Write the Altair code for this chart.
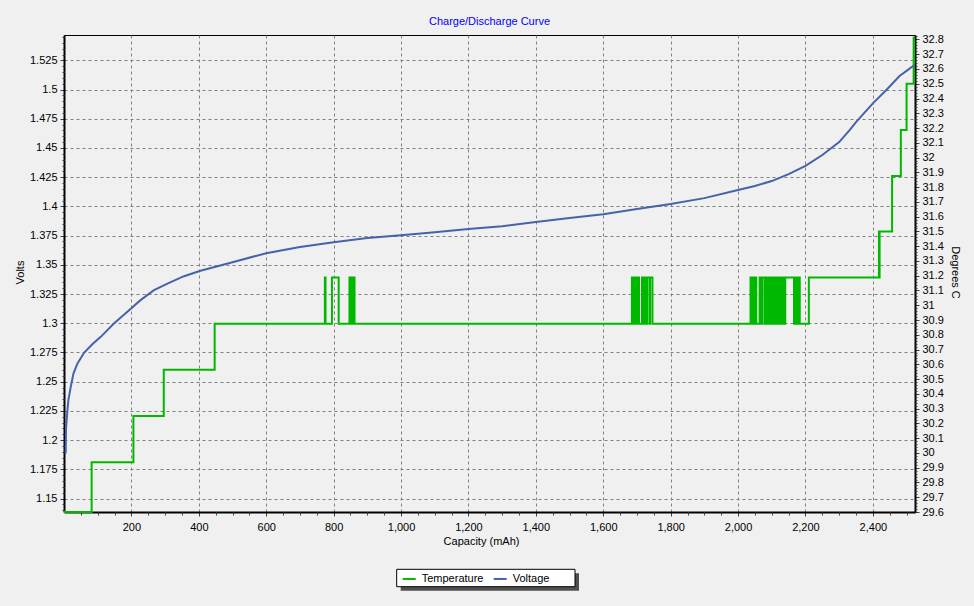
import altair as alt
import pandas as pd

# ---------------- data ----------------
title_text = "Charge/Discharge Curve"
series_names = ["Temperature", "Voltage"]

volt_cap = [5, 6, 10, 13, 20, 28, 40, 60, 84, 109, 148, 188, 227, 267, 307, 356, 405,
            500, 600, 700, 800, 900, 1000, 1100, 1200, 1300, 1400, 1500, 1600, 1700,
            1800, 1900, 2000, 2050, 2100, 2150, 2200, 2250, 2300, 2331, 2350, 2400,
            2440, 2479, 2499, 2523]
volt_val = [1.1885, 1.21, 1.225, 1.2342, 1.2456, 1.257, 1.2656, 1.275, 1.2821, 1.2884,
            1.2998, 1.3098, 1.3198, 1.3283, 1.334, 1.3403, 1.3449,
            1.3523, 1.36, 1.3652, 1.3694, 1.3729, 1.3754, 1.378, 1.3806, 1.3831, 1.3866,
            1.39, 1.3934, 1.3977, 1.402, 1.4071, 1.414, 1.4175, 1.4217, 1.4277, 1.4347,
            1.444, 1.4551, 1.4653, 1.4722, 1.4882, 1.4996, 1.5116, 1.5158, 1.521]

temp_cap = [0, 82, 206, 296, 447,
            774, 776, 795, 815, 847, 851, 852, 854, 859, 862,
            1685, 1688, 1689, 1693, 1694, 1700, 1702, 1706, 1715, 1719, 1720, 1722,
            1726, 1730, 1731, 1738, 1739, 1746,
            2037, 2041, 2042, 2048, 2049, 2054, 2064, 2068, 2071, 2078, 2082, 2086,
            2087, 2093, 2094, 2100, 2101, 2105,
            2111, 2114, 2115, 2118, 2120, 2123, 2124, 2127, 2128, 2131, 2132, 2135,
            2136, 2139, 2140,
            2166, 2168, 2170, 2172, 2174, 2176, 2178, 2180, 2183,
            2210, 2418, 2419, 2420, 2457, 2483, 2500, 2521, 2525]
temp_val = [29.6, 29.9375, 30.25, 30.5625, 30.875,
            31.1875, 30.875, 31.1875, 30.875, 31.1875, 30.875, 31.1875, 30.875, 31.1875, 30.875,
            31.1875, 30.875, 31.1875, 30.875, 31.1875, 30.875, 31.1875, 30.875, 31.1875, 30.875,
            31.1875, 30.875, 31.1875, 30.875, 31.1875, 30.875, 31.1875, 30.875,
            31.1875, 30.875, 31.1875, 30.875, 31.1875, 30.875, 31.1875, 30.875, 31.1875,
            30.875, 31.1875, 30.875, 31.1875, 30.875, 31.1875, 30.875, 31.1875, 30.875,
            31.1875, 30.875, 31.1875, 30.875, 31.1875, 30.875, 31.1875, 30.875, 31.1875,
            30.875, 31.1875, 30.875, 31.1875, 30.875, 31.1875,
            30.875, 31.1875, 30.875, 31.1875, 30.875, 31.1875, 30.875, 31.1875, 30.875,
            31.1875, 31.5, 31.1875, 31.5, 31.875, 32.1875, 32.5, 32.8125, 32.8125]

x_ticks = [200, 400, 600, 800, 1000, 1200, 1400, 1600, 1800, 2000, 2200, 2400]
volt_ticks = [1.15, 1.175, 1.2, 1.225, 1.25, 1.275, 1.3, 1.325, 1.35, 1.375, 1.4,
              1.425, 1.45, 1.475, 1.5, 1.525]
temp_ticks = [29.6, 29.7, 29.8, 29.9, 30.0, 30.1, 30.2, 30.3, 30.4, 30.5, 30.6, 30.7,
              30.8, 30.9, 31.0, 31.1, 31.2, 31.3, 31.4, 31.5, 31.6, 31.7, 31.8, 31.9,
              32.0, 32.1, 32.2, 32.3, 32.4, 32.5, 32.6, 32.7, 32.8]

# minor tick positions (styling only)
x_minor = [c for c in range(50, 2525, 50) if c % 200 != 0]
volt_minor = [round(k * 0.005, 3) for k in range(228, 310) if k % 5 != 0]
temp_minor = [round(k * 0.02, 2) for k in range(1480, 1642) if k % 5 != 0]

volt_df = pd.DataFrame({"cap": volt_cap, "volt": volt_val, "series": "Voltage"})
temp_df = pd.DataFrame({"cap": temp_cap, "temp": temp_val, "series": "Temperature"})

FONT = "Liberation Sans"
GREEN = "#00B800"
BLUE = "#4563A8"

x_scale = alt.Scale(domain=[0, 2525], nice=False, zero=False)
volt_scale = alt.Scale(domain=[1.1385, 1.5467], nice=False, zero=False)
temp_scale = alt.Scale(domain=[29.6, 32.83], nice=False, zero=False)
color_scale = alt.Scale(domain=series_names, range=[GREEN, BLUE])

legend = alt.Legend(orient="none", legendX=334.7, legendY=533.2, direction="horizontal",
                    title=None, padding=3,
                    symbolType="stroke", symbolStrokeWidth=2, symbolSize=169,
                    labelFont=FONT, labelFontSize=11, labelColor="black",
                    columnPadding=6, labelOffset=5)

# legend frame decoration (box + drop shadow)
frame_df = pd.DataFrame({"k": [0]})
shadow = alt.Chart(frame_df).mark_rect(color="#505050").encode(
    x=alt.value(336.7), x2=alt.value(515), y=alt.value(538.3), y2=alt.value(555.7))
box = alt.Chart(frame_df).mark_rect(fill="white", stroke="black", strokeWidth=1).encode(
    x=alt.value(332.7), x2=alt.value(511), y=alt.value(534.3), y2=alt.value(551.7))

temp_line = alt.Chart(temp_df).mark_line(interpolate="step-after", strokeWidth=2).encode(
    x=alt.X("cap:Q", scale=x_scale, axis=None),
    y=alt.Y("temp:Q", scale=temp_scale,
            axis=alt.Axis(orient="right", values=temp_ticks, format=".1~f", grid=False,
                          title="Degrees C", titleAngle=90, titleX=39, titleY=237,
                          titleAlign="center", titleBaseline="middle",
                          tickSize=4, labelPadding=3, labelOverlap=False, labelFlush=False)),
    color=alt.Color("series:N", scale=color_scale, legend=legend),
)

volt_line = alt.Chart(volt_df).mark_line(strokeWidth=2, clip=True).encode(
    x=alt.X("cap:Q", scale=x_scale,
            axis=alt.Axis(values=x_ticks, labelExpr="format(datum.value, ',')", grid=True,
                          title="Capacity (mAh)",
                          titleX=417, titleY=29, titleAlign="center", titleBaseline="middle",
                          tickSize=4, labelPadding=5, labelOverlap=False, labelFlush=False)),
    y=alt.Y("volt:Q", scale=volt_scale,
            axis=alt.Axis(orient="left", values=volt_ticks,
                          labelExpr="format(datum.value, '.3~f')", grid=True,
                          title="Volts", titleAngle=-90, titleX=-44, titleY=237,
                          titleAlign="center", titleBaseline="middle",
                          tickSize=4, labelPadding=3, labelOverlap=False, labelFlush=False)),
    color=alt.Color("series:N", scale=color_scale, legend=legend),
)

volt_minor_layer = alt.Chart(volt_df).mark_line(opacity=0).encode(
    x=alt.X("cap:Q", scale=x_scale,
            axis=alt.Axis(values=x_minor, labels=False, grid=False, domain=False,
                          tickSize=3, title=None, orient="bottom")),
    y=alt.Y("volt:Q", scale=volt_scale,
            axis=alt.Axis(values=volt_minor, labels=False, grid=False, domain=False,
                          tickSize=2, title=None, orient="left")),
)

temp_minor_layer = alt.Chart(temp_df).mark_line(opacity=0).encode(
    x=alt.X("cap:Q", scale=x_scale, axis=None),
    y=alt.Y("temp:Q", scale=temp_scale,
            axis=alt.Axis(values=temp_minor, labels=False, grid=False, domain=False,
                          tickSize=2, title=None, orient="right")),
)

chart = alt.layer(shadow, box, temp_line, volt_line, volt_minor_layer, temp_minor_layer).resolve_scale(
    y="independent"
).resolve_axis(
    x="independent", y="independent"
).properties(
    width=851, height=477,
    autosize=alt.AutoSizeParams(type="none"),
    padding={"left": 64, "top": 35, "right": 59, "bottom": 94},
    background="#F0F0F0",
    title=alt.TitleParams(title_text, color="#0000FF", fontSize=11, fontWeight="normal",
                          font=FONT, anchor="middle", offset=6),
).configure_view(
    stroke="black", strokeWidth=1
).configure_axis(
    labelFont=FONT, labelFontSize=11, labelColor="black",
    titleFont=FONT, titleFontSize=11, titleFontWeight="normal", titleColor="black",
    gridColor="#808080", gridDash=[3, 3], gridWidth=1, gridOpacity=1,
    domainColor="black", domainWidth=2, tickColor="#404040", tickWidth=1, zindex=0,
)

chart.save("out.html", embed_options={"renderer": "svg", "actions": False})
